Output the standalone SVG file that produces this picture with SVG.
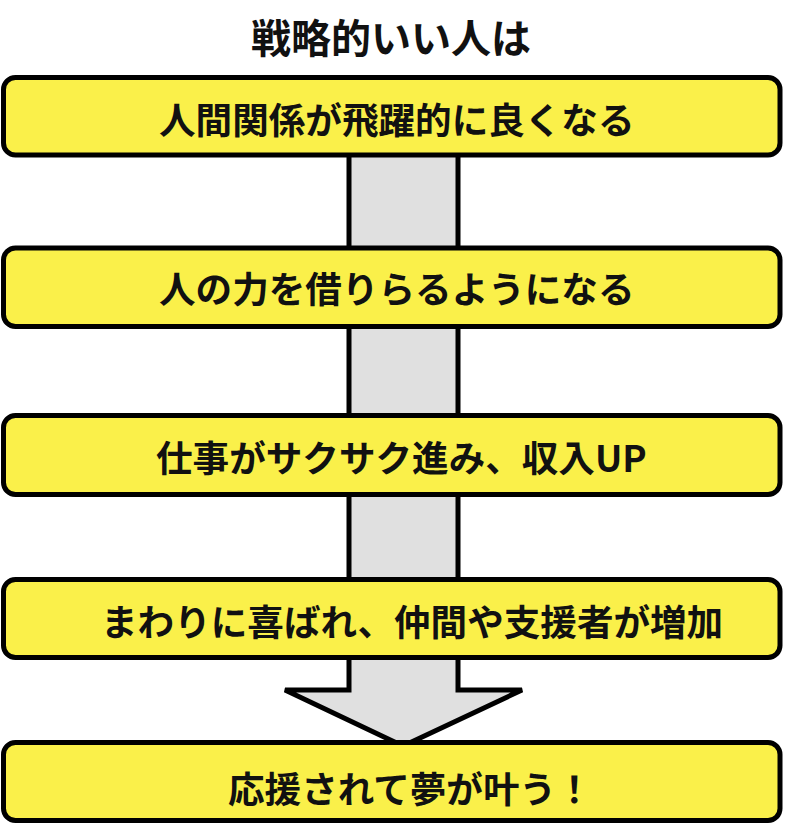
<svg xmlns="http://www.w3.org/2000/svg" width="793" height="838" viewBox="0 0 793 838">
<style>
.box{fill:#FAF04A;stroke:#000;stroke-width:5}
.arrow{fill:#E0E0E0;stroke:#000;stroke-width:5;stroke-linejoin:miter}
.t{font-family:"Noto Sans CJK JP","Noto Sans",sans-serif;font-weight:bold;font-size:36.6px;fill:#111}
.title{font-size:40px}
</style>
<rect width="793" height="838" fill="#fff"/>
<g id="connectors">
<polygon class="arrow" points="349,150 458,150 458,690 522,690 403,746 285,690 349,690"/>
</g>
<g id="title"><text class="t title" x="251" y="53">戦略的いい人は</text></g>
<g id="node1"><rect class="box" x="3.5" y="77.5" width="776.5" height="77.5" rx="12"/><text class="t" x="159" y="134">人間関係が飛躍的に良くなる</text></g>
<g id="node2"><rect class="box" x="3.5" y="248" width="776.5" height="78.5" rx="12"/><text class="t" x="159" y="303">人の力を借りらるようになる</text></g>
<g id="node3"><rect class="box" x="3.5" y="415.5" width="776.5" height="79" rx="12"/><text class="t" x="156" y="472">仕事がサクサク進み、収入UP</text></g>
<g id="node4"><rect class="box" x="3.5" y="579.5" width="776.5" height="78" rx="12"/><text class="t" x="101" y="636">まわりに喜ばれ、仲間や支援者が増加</text></g>
<g id="node5"><rect class="box" x="3.5" y="742.5" width="776.5" height="78" rx="12"/><text class="t" x="228" y="803">応援されて夢が叶う！</text></g>
</svg>
